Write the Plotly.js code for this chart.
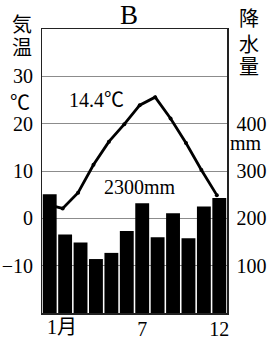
<!DOCTYPE html>
<html>
<head>
<meta charset="utf-8">
<script src="https://cdn.plot.ly/plotly-3.0.1.min.js"></script>
<style>html,body{margin:0;padding:0;background:#fff;}#chart{width:269px;height:338px;}</style>
</head>
<body>
<div id="chart"></div>
<script>
const months = [1,2,3,4,5,6,7,8,9,10,11,12];
const precipitation = [251,166,149,114,127,173,232,160,211,158,225,243];
const temperature = [2.9,2.1,5.4,11.3,16.2,19.9,23.9,25.6,21.1,15.9,10.2,4.9];
const tempTicks = [-10,0,10,20,30];
const tempTickText = ['\u221210','0','10','20','30'];
const precipTicks = [100,200,300,400];
const precipTickText = ['100','200','300','400'];
const xTickVals = [7,12];
const xTickText = ['7','12'];
const firstMonthLabel = '1\u6708';
const titleText = 'B';
const annualTemp = '14.4\u2103';
const annualPrecip = '2300mm';

const SERIF = "'Liberation Serif', 'Noto Sans CJK JP', serif";
const CJK = "'Noto Sans CJK JP', 'Liberation Serif', serif";

const traces = [
  {
    type: 'bar', x: months, y: precipitation,
    xaxis: 'x', yaxis: 'y',
    marker: {color: '#000', line: {width: 0}},
    hoverinfo: 'skip'
  },
  {
    type: 'scatter', mode: 'lines+markers', x: months, y: temperature,
    xaxis: 'x2', yaxis: 'y2',
    line: {color: '#000', width: 2.8},
    marker: {color: '#000', size: 4},
    hoverinfo: 'skip'
  }
];

function ann(text, x, y, family, size) {
  return {text: text, x: x, y: y, xref: 'paper', yref: 'paper', showarrow: false,
          xanchor: 'center', yanchor: 'middle',
          font: {family: family, size: size, color: '#000'}};
}

const layout = {
  width: 269, height: 338,
  margin: {l: 42, r: 42, t: 29, b: 25, pad: 0},
  paper_bgcolor: '#fff', plot_bgcolor: '#fff',
  showlegend: false,
  bargap: 0.1,
  font: {family: SERIF, color: '#000', size: 20},
  title: {text: titleText, x: 0.48, xanchor: 'center', y: 0.985, yanchor: 'top',
          font: {family: SERIF, size: 27, color: '#000'}},
  xaxis: {
    range: [0.5, 12.5], tickvals: xTickVals, ticktext: xTickText,
    ticks: '', showgrid: false, zeroline: false,
    showline: true, mirror: true, linecolor: '#222', linewidth: 1.5,
    ticklabelstandoff: -3,
    tickfont: {family: SERIF, size: 20, color: '#000'}
  },
  xaxis2: {
    range: [0.66, 12.66], overlaying: 'x', visible: false
  },
  yaxis: {
    range: [0, 600], side: 'right', tickvals: precipTicks, ticktext: precipTickText,
    ticks: '', showgrid: false, zeroline: false,
    showline: true, mirror: true, linecolor: '#222', linewidth: 1.5,
    ticklabelstandoff: 4,
    tickfont: {family: SERIF, size: 20, color: '#000'}
  },
  yaxis2: {
    range: [-20, 40], overlaying: 'y', side: 'left',
    tickvals: tempTicks, ticktext: tempTickText,
    ticks: '', showgrid: true, gridcolor: '#8c8c8c', gridwidth: 1, zeroline: false,
    ticklabelstandoff: 8,
    tickfont: {family: SERIF, size: 20, color: '#000'}
  },
  annotations: [
    ann('\u6c17', -0.106, 1.021, CJK, 20),
    ann('\u6e29', -0.106, 0.937, CJK, 20),
    ann('\u2103', -0.117, 0.743, CJK, 20),
    ann('\u964d', 1.119, 1.039, CJK, 20),
    ann('\u6c34', 1.119, 0.95, CJK, 20),
    ann('\u91cf', 1.119, 0.87, CJK, 20),
    ann('mm', 1.103, 0.6, SERIF, 20),
    ann(annualTemp, 0.292, 0.75, SERIF, 20),
    ann(annualPrecip, 0.53, 0.444, SERIF, 20),
    {text: firstMonthLabel, x: 1, xref: 'x', y: -0.049, yref: 'paper', showarrow: false,
     xanchor: 'left', yanchor: 'middle', xshift: -5,
     font: {family: SERIF, size: 20, color: '#000'}}
  ]
};

Plotly.newPlot('chart', traces, layout, {displayModeBar: false, staticPlot: true});
</script>
</body>
</html>
